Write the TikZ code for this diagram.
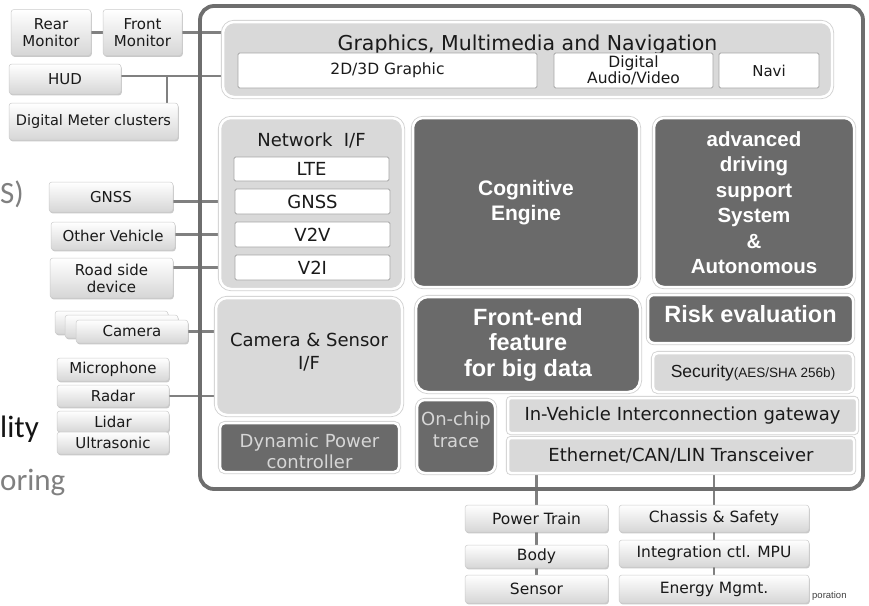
\documentclass[tikz,border=0pt]{standalone}
\usepackage{fontspec}
\setmainfont{DejaVu Sans}
\newfontfamily\arialfont{Liberation Sans}
\newfontfamily\slidefont{Carlito}
\usetikzlibrary{shadows}

\definecolor{framegray}{HTML}{6E6E6E}
\definecolor{panelfill}{HTML}{D9D9D9}
\definecolor{darkfill}{HTML}{6A6A6A}
\definecolor{wirec}{HTML}{808080}
\definecolor{cellline}{HTML}{A6A6A6}
\definecolor{inktext}{HTML}{1A1A1A}
\definecolor{softtext}{HTML}{D6D6D6}

\newcommand{\fs}[2]{\fontsize{#1}{#2}\selectfont}

\pgfdeclarelayer{bglayer}
\pgfdeclarelayer{wirelayer}
\pgfsetlayers{bglayer,wirelayer,main}

\begin{document}
\begin{tikzpicture}[x=1pt, y=-1pt,
  wire/.style={draw=wirec, line width=2.6pt},
  outerframe/.style={draw=framegray, line width=3.8pt, rounded corners=14pt, inner sep=0pt},
  lightpanel/.style={fill=panelfill, draw=white, line width=2.5pt, rounded corners=11pt,
    inner sep=0pt, preaction={draw=black!18, line width=4.2pt}},
  darkbox/.style={fill=darkfill, draw=white, line width=2.5pt, rounded corners=10pt,
    inner sep=0pt, preaction={draw=black!18, line width=4.2pt}, text=white, align=center},
  cell/.style={fill=white, draw=cellline, line width=0.8pt, rounded corners=1.5pt,
    inner sep=0pt, text=inktext, align=center},
  extbox/.style={draw=black!20, line width=0.5pt, top color=white, bottom color=black!16,
    rounded corners=3pt, inner sep=0pt, text=inktext, align=center, font=\fs{15}{17},
    drop shadow={shadow xshift=0.8pt, shadow yshift=-1.4pt, opacity=0.35, fill=black!60}},
  caption/.style={inner sep=0pt, text=inktext, align=center},
  slidetxt/.style={anchor=base west, inner sep=0pt, font=\slidefont\fs{31}{36}},
  boldtxt/.style={font=\arialfont\bfseries\fs{21}{25.5}},
  bigtxt/.style={font=\arialfont\bfseries\fs{23.5}{25.5}},
]
\useasboundingbox (0,0) rectangle (869,605);
\begin{pgfonlayer}{bglayer}
  \fill[white] (0,0) rectangle (869,605);
\end{pgfonlayer}

% slide text fragments behind the diagram
\node[slidetxt, text=black!50] (fragS) at (0,203) {S)};
\node[slidetxt, text=black!92] (fragL) at (0,437) {lity};
\node[slidetxt, text=black!50] (fragO) at (0,490) {oring};

% SoC outline
\node[outerframe, minimum width=663pt, minimum height=483pt] (frame) at (531.5,247.5) {};

% Graphics, multimedia and navigation
\node[lightpanel, minimum width=609pt, minimum height=75pt] (gfx) at (527.5,59.5) {};
\node[caption, anchor=base, font=\fs{20.5}{24}] (gfxtitle) at (527.5,50) {Graphics, Multimedia and Navigation};
\node[cell, minimum width=299pt, minimum height=35pt, font=\fs{15.5}{18}] (g2d) at (387.5,70.5) {2D/3D Graphic};
\node[cell, minimum width=159pt, minimum height=35pt, font=\fs{15.5}{14.5}] (gav) at (633.5,70.5) {Digital\\Audio/Video};
\node[cell, minimum width=100pt, minimum height=35pt, font=\fs{15}{18}] (gnav) at (769,70.5) {Navi};

% Network interface
\node[lightpanel, minimum width=183pt, minimum height=171pt] (net) at (311.5,203.5) {};
\node[caption, anchor=base, font=\fs{18}{21}] (nettitle) at (311.5,146) {Network\ \ I/F};
\node[cell, minimum width=155pt, minimum height=24pt, font=\fs{18}{21}] (lte) at (311.5,169) {LTE};
\node[cell, minimum width=155pt, minimum height=25pt, font=\fs{18}{21}] (gnssi) at (312.5,201.5) {GNSS};
\node[cell, minimum width=155pt, minimum height=25pt, font=\fs{18}{21}] (v2v) at (312.5,234.5) {V2V};
\node[cell, minimum width=155pt, minimum height=25pt, font=\fs{18}{21}] (v2i) at (312.5,267.5) {V2I};

% Processing engines
\node[darkbox, boldtxt, minimum width=226pt, minimum height=169pt] (cog) at (526,202.5) {Cognitive\\Engine};
\node[darkbox, font=\arialfont\bfseries\fs{20.5}{25.5}, minimum width=200pt, minimum height=169pt] (adas) at (754,202.5)
  {advanced\\driving\\support\\System\\\&\\Autonomous};

% Camera and sensor interface
\node[lightpanel, minimum width=186pt, minimum height=117pt] (cs) at (309,356.5) {};
\node[caption, anchor=north, font=\fs{18}{23}] (cstext) at (309,333) {Camera \& Sensor\\I/F};

\node[darkbox, rounded corners=5pt, minimum width=179pt, minimum height=49pt] (dpc) at (309.5,447.5) {};
\node[caption, anchor=north, text=softtext, font=\fs{18}{21}] (dpctext) at (309.5,434) {Dynamic Power\\controller};

\node[darkbox, rounded corners=12pt, bigtxt, minimum width=224pt, minimum height=95pt] (fe) at (528,344.5)
  {Front-end\\feature\\for big data};

\node[darkbox, rounded corners=6pt, minimum width=205pt, minimum height=48pt] (risk) at (750.5,319) {};
\node[caption, anchor=base, text=white, font=\arialfont\bfseries\fs{23.5}{26}] (risktext) at (750.5,322) {Risk evaluation};

\node[lightpanel, rounded corners=5pt, minimum width=200pt, minimum height=39pt] (sec) at (753,372.5)
  {\arialfont\fs{17.5}{19}\color{inktext}Security\fs{13.5}{15}(AES/SHA 256b)};

\node[darkbox, rounded corners=8pt, minimum width=78pt, minimum height=73pt] (trace) at (456,436.5) {};
\node[caption, anchor=north, text=softtext, font=\fs{18}{22}] (tracetext) at (456,411.5) {On-chip\\trace};

\node[lightpanel, rounded corners=3pt, minimum width=349pt, minimum height=35pt, text=inktext, font=\fs{18}{21}] (gw) at (682.5,415.5)
  {In-Vehicle Interconnection gateway};
\node[lightpanel, rounded corners=3pt, minimum width=346pt, minimum height=35pt, text=inktext, font=\fs{18}{21}] (eth) at (681,455.5)
  {Ethernet/CAN/LIN Transceiver};

% Displays
\node[extbox, minimum width=80pt, minimum height=46pt] (rear) at (51,32.5) {Rear\\Monitor};
\node[extbox, minimum width=79pt, minimum height=46pt] (front) at (142.5,32.5) {Front\\Monitor};
\node[extbox, minimum width=112pt, minimum height=30pt] (hud) at (65,79) {HUD};
\node[extbox, minimum width=169pt, minimum height=37pt, font=\fs{14.5}{17}] (dmc) at (93.5,121.5) {Digital Meter clusters};

% Communication partners
\node[extbox, minimum width=124pt, minimum height=30pt] (gnssx) at (111,197) {GNSS};
\node[extbox, minimum width=124pt, minimum height=28pt] (othv) at (113,236) {Other Vehicle};
\node[extbox, minimum width=123pt, minimum height=40pt] (road) at (111.5,278) {Road side\\device};

% Sensors
\node[extbox, minimum width=113pt, minimum height=23pt] (cam3) at (111.5,322.5) {};
\node[extbox, minimum width=113pt, minimum height=23pt] (cam2) at (121.5,326.5) {};
\node[extbox, minimum width=112pt, minimum height=23pt] (cam1) at (132,331.5) {Camera};
\node[extbox, minimum width=112pt, minimum height=23pt] (mic) at (113,369.5) {Microphone};
\node[extbox, minimum width=112pt, minimum height=22pt] (radar) at (113,396) {Radar};
\node[extbox, minimum width=112pt, minimum height=21pt] (lidar) at (113,421.5) {Lidar};
\node[extbox, minimum width=112pt, minimum height=22pt] (ultra) at (113,443) {Ultrasonic};

% Vehicle domains
\node[extbox, minimum width=143pt, minimum height=27pt, font=\fs{15.5}{18}] (pt) at (536.5,518.5) {Power Train};
\node[extbox, minimum width=143pt, minimum height=23pt, font=\fs{15.5}{18}] (body) at (536.5,556.5) {Body};
\node[extbox, minimum width=143pt, minimum height=28pt, font=\fs{15.5}{18}] (sensor) at (536.5,589) {Sensor};
\node[extbox, minimum width=190pt, minimum height=27pt, font=\fs{15.5}{18}] (chassis) at (714,518.5) {Chassis \& Safety};
\node[extbox, minimum width=190pt, minimum height=27pt, font=\fs{15.5}{18}] (integ) at (714,553.5) {Integration ctl. MPU};
\node[extbox, minimum width=190pt, minimum height=28pt, font=\fs{15.5}{18}] (energy) at (714,589) {Energy Mgmt.};

\node[anchor=base west, inner sep=0pt, font=\arialfont\fs{9.5}{11}, text=black!75] (corp) at (812,598) {poration};

% Connections
\coordinate (meterj) at (167,76);
\begin{pgfonlayer}{wirelayer}
  \draw[wire] (rear.east) -- (front.west);
  \draw[wire] (front.east) -- (front.east -| gfx.west);
  \draw[wire] ([yshift=3pt]hud.east) -- ([yshift=3pt]hud.east -| gfx.west);
  \draw[wire] (meterj) -- (meterj |- dmc.north);
  \draw[wire] (gnssx.east |- gnssi) -- (gnssi -| net.west);
  \draw[wire] (othv.east |- v2v) -- (v2v -| net.west);
  \draw[wire] (road.east |- v2i) -- (v2i -| net.west);
  \draw[wire] (cam1.east) -- (cam1.east -| cs.west);
  \draw[wire] (radar.east) -- (radar.east -| cs.west);
  \draw[wire] (pt.north |- eth.south) -- (pt.north);
  \draw[wire] (pt.south) -- (body.north);
  \draw[wire] (body.south) -- (sensor.north);
  \draw[wire] (chassis.north |- eth.south) -- (chassis.north);
  \draw[wire] (chassis.south) -- (integ.north);
  \draw[wire] (integ.south) -- (energy.north);
\end{pgfonlayer}
\end{tikzpicture}
\end{document}
